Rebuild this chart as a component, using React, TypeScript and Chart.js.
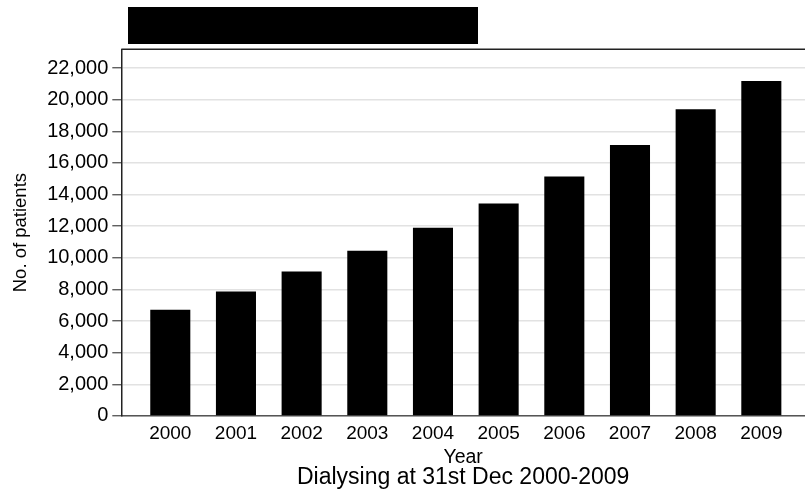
import React, { useEffect, useRef } from "react";
import { Chart, registerables } from "chart.js";

Chart.register(...registerables);

// ---- data ----
const years: number[] = [2000, 2001, 2002, 2003, 2004, 2005, 2006, 2007, 2008, 2009];
const patients: number[] = [6710, 7870, 9140, 10450, 11910, 13430, 15150, 17130, 19400, 21180];
const yTicks: number[] = [0, 2000, 4000, 6000, 8000, 10000, 12000, 14000, 16000, 18000, 20000, 22000];

const yTitle = "No. of patients";
const xTitle = "Year";
const subtitle = "Dialysing at 31st Dec 2000-2009";

const yMax = 23190;
const xMin = 1999.254;
const xMax = 2009.665;

const FONT = '"Liberation Sans", Arial, Helvetica, sans-serif';

const topBorder = {
  id: "topBorder",
  afterDraw(chart: any) {
    const { ctx, chartArea } = chart;
    ctx.save();
    ctx.strokeStyle = "#222";
    ctx.lineWidth = 1.5;
    ctx.beginPath();
    ctx.moveTo(chartArea.left, chartArea.top);
    ctx.lineTo(chartArea.right, chartArea.top);
    ctx.stroke();
    ctx.restore();
  },
};

export default function App() {
  const canvasRef = useRef<HTMLCanvasElement | null>(null);

  useEffect(() => {
    if (!canvasRef.current) return;
    const chart = new Chart(canvasRef.current, {
      type: "bar",
      data: {
        datasets: [
          {
            data: years.map((yr, i) => ({ x: yr, y: patients[i] })),
            backgroundColor: "#000",
            borderWidth: 0,
            barPercentage: 0.61,
            categoryPercentage: 1,
          } as any,
        ],
      },
      plugins: [topBorder],
      options: {
        animation: false,
        responsive: true,
        maintainAspectRatio: false,
        layout: { padding: { top: 49.3, left: 0, right: 0, bottom: 5.75 } },
        plugins: {
          legend: { display: false },
          tooltip: { enabled: false },
          title: {
            display: true,
            text: subtitle,
            position: "bottom",
            fullSize: false,
            color: "#000",
            font: { family: FONT, size: 23, weight: "normal", lineHeight: 1 },
            padding: { top: 0, bottom: 0 },
          },
        },
        scales: {
          x: {
            type: "linear",
            min: xMin,
            max: xMax,
            offset: false,
            grid: { display: true, drawOnChartArea: false, drawTicks: false, tickLength: 0, offset: false },
            border: { display: true, color: "#555", width: 1.5 },
            afterBuildTicks: (s: any) => {
              s.ticks = years.map((v) => ({ value: v }));
            },
            ticks: {
              autoSkip: false,
              maxRotation: 0,
              padding: 6.9,
              color: "#000",
              font: { family: FONT, size: 19 },
              callback: (v: any) => String(v),
            },
            title: {
              display: true,
              text: xTitle,
              color: "#000",
              font: { family: FONT, size: 19.5, lineHeight: 1 },
              padding: { top: -4.3, bottom: -1.5 },
            },
          },
          y: {
            type: "linear",
            min: 0,
            max: yMax,
            afterFit: (s: any) => {
              s.width = 121.3;
            },
            afterBuildTicks: (s: any) => {
              s.ticks = yTicks.map((v) => ({ value: v }));
            },
            grid: {
              color: "#e2e2e2",
              lineWidth: 1.5,
              tickColor: "#444",
              tickLength: 9,
              tickWidth: 1.2,
            },
            border: { display: true, color: "#222", width: 1.5 },
            ticks: {
              autoSkip: false,
              padding: 4,
              color: "#000",
              font: { family: FONT, size: 20 },
              callback: (v: any) => Number(v).toLocaleString("en-US"),
            },
            title: {
              display: true,
              text: yTitle,
              color: "#000",
              font: { family: FONT, size: 18.5, lineHeight: 1.2 },
              padding: { top: 9.4, bottom: 0 },
            },
          },
        },
      } as any,
    });
    return () => chart.destroy();
  }, []);

  return (
    <div style={{ position: "absolute", left: 0, top: 0, width: 805, height: 495, background: "#fff" }}>
      <canvas ref={canvasRef} />
      <div
        style={{
          position: "absolute",
          left: 128,
          top: 7,
          width: 350,
          height: 37,
          background: "#000",
        }}
      />
    </div>
  );
}
